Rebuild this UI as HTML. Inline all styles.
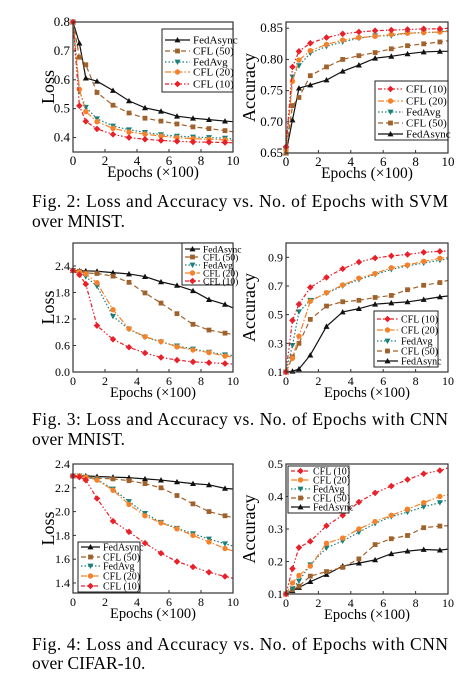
<!DOCTYPE html>
<html><head><meta charset="utf-8"><style>
html,body{margin:0;padding:0;background:#fff;}
svg{display:block;font-family:"Liberation Serif",serif;}
</style></head><body>
<svg id="fig" width="476" height="682" viewBox="0 0 476 682" xmlns="http://www.w3.org/2000/svg">
<text x="32" y="207" font-size="17.5" textLength="416" lengthAdjust="spacing">Fig. 2: Loss and Accuracy vs. No. of Epochs with SVM</text>
<text x="32" y="227" font-size="17.5">over MNIST.</text>
<text x="32" y="425" font-size="17.5" textLength="416" lengthAdjust="spacing">Fig. 3: Loss and Accuracy vs. No. of Epochs with CNN</text>
<text x="32" y="445" font-size="17.5">over MNIST.</text>
<text x="32" y="650" font-size="17.5" textLength="416" lengthAdjust="spacing">Fig. 4: Loss and Accuracy vs. No. of Epochs with CNN</text>
<text x="32" y="669" font-size="17.5">over CIFAR-10.</text>
</svg>
<script>
const epochs = [0,0.4,0.8,1.5,2.5,3.5,4.5,5.5,6.5,7.5,8.5,9.5,10];
const xTicks = [0,2,4,6,8,10];
// Fig 2 loss (SVM)
const f2LossAsync = [0.8,0.727,0.606,0.595,0.563,0.527,0.503,0.491,0.474,0.467,0.462,0.457,0.455];
const f2LossC50 = [0.8,0.678,0.652,0.556,0.512,0.485,0.467,0.457,0.447,0.437,0.431,0.424,0.42];
const f2LossAvg = [0.8,0.56,0.505,0.465,0.44,0.427,0.418,0.41,0.405,0.402,0.4,0.398,0.395];
const f2LossC20 = [0.8,0.567,0.49,0.455,0.432,0.419,0.412,0.405,0.4,0.396,0.394,0.392,0.39];
const f2LossC10 = [0.8,0.51,0.456,0.43,0.411,0.4,0.394,0.39,0.387,0.385,0.384,0.383,0.382];
const f2LossTicks = [0.4,0.5,0.6,0.7,0.8];
// Fig 2 accuracy
const f2AccC10 = [0.66,0.788,0.813,0.826,0.835,0.841,0.844,0.846,0.847,0.848,0.849,0.849,0.85];
const f2AccC20 = [0.655,0.765,0.799,0.814,0.824,0.831,0.835,0.837,0.84,0.842,0.843,0.844,0.845];
const f2AccAvg = [0.655,0.772,0.79,0.81,0.821,0.828,0.834,0.838,0.838,0.842,0.843,0.844,0.846];
const f2AccC50 = [0.65,0.726,0.739,0.774,0.788,0.8,0.806,0.811,0.817,0.822,0.825,0.828,0.83];
const f2AccAsync = [0.65,0.703,0.754,0.759,0.767,0.781,0.791,0.802,0.805,0.809,0.812,0.813,0.813];
const f2AccTicks = [0.65,0.70,0.75,0.80,0.85];
// Fig 3 loss (CNN MNIST)
const f3LossAsync = [2.3,2.29,2.29,2.28,2.25,2.22,2.16,2.04,1.96,1.84,1.64,1.53,1.45];
const f3LossC50 = [2.3,2.28,2.24,2.23,2.17,2.03,1.79,1.56,1.32,1.08,0.95,0.88,0.85];
const f3LossAvg = [2.3,2.25,2.16,1.94,1.26,0.97,0.79,0.68,0.59,0.52,0.45,0.39,0.37];
const f3LossC20 = [2.3,2.26,2.22,2.02,1.41,0.98,0.8,0.69,0.57,0.5,0.44,0.36,0.34];
const f3LossC10 = [2.3,2.2,1.99,1.05,0.74,0.56,0.43,0.33,0.27,0.23,0.21,0.19,0.18];
const f3LossTicks = [0.0,0.6,1.2,1.8,2.4];
// Fig 3 accuracy
const f3AccC10 = [0.1,0.46,0.573,0.69,0.76,0.82,0.867,0.895,0.91,0.92,0.935,0.942,0.945];
const f3AccC20 = [0.1,0.196,0.35,0.594,0.653,0.707,0.754,0.787,0.827,0.846,0.872,0.893,0.9];
const f3AccAvg = [0.1,0.286,0.52,0.6,0.65,0.7,0.745,0.78,0.815,0.84,0.86,0.88,0.89];
const f3AccC50 = [0.1,0.206,0.3,0.467,0.56,0.59,0.6,0.62,0.634,0.674,0.705,0.724,0.74];
const f3AccAsync = [0.1,0.105,0.121,0.218,0.418,0.519,0.542,0.573,0.582,0.589,0.606,0.624,0.63];
const f3AccTicks = [0.1,0.3,0.5,0.7,0.9];
// Fig 4 loss (CNN CIFAR-10)
const f4LossAsync = [2.3,2.3,2.3,2.295,2.29,2.285,2.275,2.265,2.25,2.235,2.225,2.195,2.19];
const f4LossC50 = [2.3,2.3,2.29,2.28,2.275,2.26,2.235,2.2,2.135,2.065,2.0,1.965,1.95];
const f4LossAvg = [2.3,2.3,2.29,2.27,2.19,2.085,1.985,1.91,1.86,1.815,1.77,1.73,1.71];
const f4LossC20 = [2.3,2.3,2.29,2.265,2.18,2.06,1.965,1.905,1.855,1.8,1.745,1.69,1.67];
const f4LossC10 = [2.3,2.29,2.265,2.11,1.92,1.83,1.735,1.65,1.58,1.535,1.49,1.455,1.44];
const f4LossTicks = [1.4,1.6,1.8,2.0,2.2,2.4];
// Fig 4 accuracy
const f4AccC10 = [0.1,0.178,0.243,0.262,0.31,0.342,0.383,0.411,0.432,0.452,0.47,0.48,0.488];
const f4AccC20 = [0.1,0.134,0.157,0.186,0.256,0.272,0.3,0.323,0.342,0.361,0.381,0.4,0.405];
const f4AccAvg = [0.1,0.116,0.14,0.19,0.242,0.263,0.29,0.317,0.338,0.352,0.368,0.381,0.39];
const f4AccC50 = [0.1,0.113,0.124,0.155,0.169,0.182,0.208,0.252,0.27,0.28,0.304,0.309,0.31];
const f4AccAsync = [0.1,0.11,0.12,0.138,0.16,0.186,0.195,0.205,0.224,0.232,0.237,0.235,0.238];
const f4AccTicks = [0.1,0.2,0.3,0.4,0.5];

const NS = "http://www.w3.org/2000/svg";
const svg = document.getElementById('fig');
const STY = {
  async:{c:'#111', dash:'', m:'tri', label:'FedAsync'},
  c50:{c:'#a0622d', dash:'5,3', m:'sq', label:'CFL (50)'},
  avg:{c:'#1a7f7a', dash:'1.5,2', m:'tri-down', label:'FedAvg'},
  c20:{c:'#f5822a', dash:'6,2,1.5,2', m:'circ', label:'CFL (20)'},
  c10:{c:'#e8202a', dash:'4,2,1.5,2,1.5,2', m:'dia', label:'CFL (10)'}
};
function mk(tag, attrs, parent){
  const e = document.createElementNS(NS, tag);
  for (const k in attrs) e.setAttribute(k, attrs[k]);
  (parent||svg).appendChild(e);
  return e;
}
function marker(g, kind, x, y, c, s){
  let e;
  if (kind==='tri') e = mk('polygon',{points:`${x},${y-s} ${x-s},${y+s*0.8} ${x+s},${y+s*0.8}`,fill:c},g);
  else if (kind==='tri-down') e = mk('polygon',{points:`${x},${y+s} ${x-s},${y-s*0.8} ${x+s},${y-s*0.8}`,fill:c},g);
  else if (kind==='sq') e = mk('rect',{x:x-s*0.8,y:y-s*0.8,width:s*1.6,height:s*1.6,fill:c},g);
  else if (kind==='circ') e = mk('circle',{cx:x,cy:y,r:s*0.9,fill:c},g);
  else e = mk('polygon',{points:`${x},${y-s*1.1} ${x+s*1.1},${y} ${x},${y+s*1.1} ${x-s*1.1},${y}`,fill:c},g);
  
  
}
function chart(cfg){
  const g = mk('g',{});
  
  
  const sx = v => cfg.x0 + (v-0)/(10-0)*(cfg.x1-cfg.x0);
  const sy = v => cfg.yb - (v-cfg.ymin)/(cfg.ymax-cfg.ymin)*(cfg.yb-cfg.yt);
  const fs = cfg.fs;
  cfg.series.forEach(s=>{
    const st = STY[s.key];
    const pts = epochs.map((e,i)=>sx(e)+','+sy(s.data[i])).join(' ');
    const line = mk('polyline',{points:pts,fill:'none',stroke:st.c,'stroke-width':1.2,'stroke-dasharray':st.dash},g);
    
    
    epochs.forEach((e,i)=>{ if(i<epochs.length-1) marker(g, st.m, sx(e), sy(s.data[i]), st.c, 3); });
  });
  const box = mk('rect',{x:cfg.x0,y:cfg.yt,width:cfg.x1-cfg.x0,height:cfg.yb-cfg.yt,fill:'none',stroke:'#333','stroke-width':1.2},g);
  
  
  xTicks.forEach(t=>{
    mk('line',{x1:sx(t),x2:sx(t),y1:cfg.yb,y2:cfg.yb-3,stroke:'#333'},g);
    const tx = mk('text',{x:sx(t),y:cfg.yb+13,'font-size':fs,'text-anchor':'middle'},g);
    tx.textContent = t;
    
    
  });
  cfg.ticks.forEach(t=>{
    mk('line',{x1:cfg.x0,x2:cfg.x0+3,y1:sy(t),y2:sy(t),stroke:'#333'},g);
    const tx = mk('text',{x:cfg.x0-3,y:sy(t)+4,'font-size':fs,'text-anchor':'end'},g);
    tx.textContent = t.toFixed(cfg.dec);
    
    
  });
  const xt = mk('text',{x:(cfg.x0+cfg.x1)/2,y:cfg.yb+25,'font-size':fs+2.5,'text-anchor':'middle'},g);
  xt.textContent = 'Epochs (\u00d7100)';
  
  
  const ym = (cfg.yt+cfg.yb)/2;
  const yt = mk('text',{x:cfg.ylx,y:ym,'font-size':18,'text-anchor':'middle',transform:`rotate(-90 ${cfg.ylx} ${ym})`},g);
  yt.textContent = cfg.ylabel;
  
  
  const L = cfg.leg;
  const lg = mk('g',{},g);
  
  
  mk('rect',{x:L.x,y:L.y,width:L.w,height:L.h,fill:'#fff',stroke:'#222','stroke-width':1},lg);
  L.keys.forEach((k,i)=>{
    const st = STY[k];
    const yy = L.rows[i];
    mk('line',{x1:L.x+3,x2:L.x+L.lw,y1:yy,y2:yy,stroke:st.c,'stroke-width':1.2,'stroke-dasharray':st.dash},lg);
    marker(lg, st.m, L.x+3+(L.lw-3)/2, yy, st.c, 3);
    const tx = mk('text',{x:L.x+L.lw+3,y:yy+3.5,'font-size':L.fs},lg);
    tx.textContent = st.label;
    
    
  });
}
const order1 = ['async','c50','avg','c20','c10'];
const order2 = ['c10','c20','avg','c50','async'];
chart({name:'fig2-loss-chart',x0:73,x1:233,yt:22,yb:152,ymin:0.35,ymax:0.8,ticks:f2LossTicks,dec:1,fs:13,ylabel:'Loss',ylx:54,
  series:[{key:'async',data:f2LossAsync},{key:'c50',data:f2LossC50},{key:'avg',data:f2LossAvg},{key:'c20',data:f2LossC20},{key:'c10',data:f2LossC10}],
  leg:{x:162,y:29,w:71,h:63,lw:28,fs:11,keys:order1,rows:[40,51,62,72,84]}});
chart({name:'fig2-accuracy-chart',x0:286,x1:448,yt:22,yb:153,ymin:0.65,ymax:0.86,ticks:f2AccTicks,dec:2,fs:13,ylabel:'Accuracy',ylx:255,
  series:[{key:'async',data:f2AccAsync},{key:'c50',data:f2AccC50},{key:'avg',data:f2AccAvg},{key:'c20',data:f2AccC20},{key:'c10',data:f2AccC10}],
  leg:{x:375,y:81,w:73,h:59,lw:28,fs:11,keys:order2,rows:[89,101,112,123,134]}});
chart({name:'fig3-loss-chart',x0:73,x1:233,yt:243,yb:372,ymin:0,ymax:2.92,ticks:f3LossTicks,dec:1,fs:12,ylabel:'Loss',ylx:54,
  series:[{key:'async',data:f3LossAsync},{key:'c50',data:f3LossC50},{key:'avg',data:f3LossAvg},{key:'c20',data:f3LossC20},{key:'c10',data:f3LossC10}],
  leg:{x:182,y:243,w:51,h:42,lw:18,fs:9.5,keys:order1,rows:[249,257,265,273,281]}});
chart({name:'fig3-accuracy-chart',x0:286,x1:448,yt:243,yb:372,ymin:0.1,ymax:1.0,ticks:f3AccTicks,dec:1,fs:12,ylabel:'Accuracy',ylx:255,
  series:[{key:'async',data:f3AccAsync},{key:'c50',data:f3AccC50},{key:'avg',data:f3AccAvg},{key:'c20',data:f3AccC20},{key:'c10',data:f3AccC10}],
  leg:{x:374,y:311,w:64,h:56,lw:24,fs:10,keys:order2,rows:[319,330,341,351,361]}});
chart({name:'fig4-loss-chart',x0:73,x1:233,yt:464,yb:593,ymin:1.316,ymax:2.4,ticks:f4LossTicks,dec:1,fs:12,ylabel:'Loss',ylx:54,
  series:[{key:'async',data:f4LossAsync},{key:'c50',data:f4LossC50},{key:'avg',data:f4LossAvg},{key:'c20',data:f4LossC20},{key:'c10',data:f4LossC10}],
  leg:{x:78,y:542,w:62,h:50,lw:22,fs:10,keys:order1,rows:[547,557,566,576,586]}});
chart({name:'fig4-accuracy-chart',x0:286,x1:448,yt:464,yb:594,ymin:0.1,ymax:0.5,ticks:f4AccTicks,dec:1,fs:12,ylabel:'Accuracy',ylx:255,
  series:[{key:'async',data:f4AccAsync},{key:'c50',data:f4AccC50},{key:'avg',data:f4AccAvg},{key:'c20',data:f4AccC20},{key:'c10',data:f4AccC10}],
  leg:{x:288,y:466,w:61,h:47,lw:22,fs:10,keys:order2,rows:[471,480,489,498,507]}});
</script>
</body></html>
